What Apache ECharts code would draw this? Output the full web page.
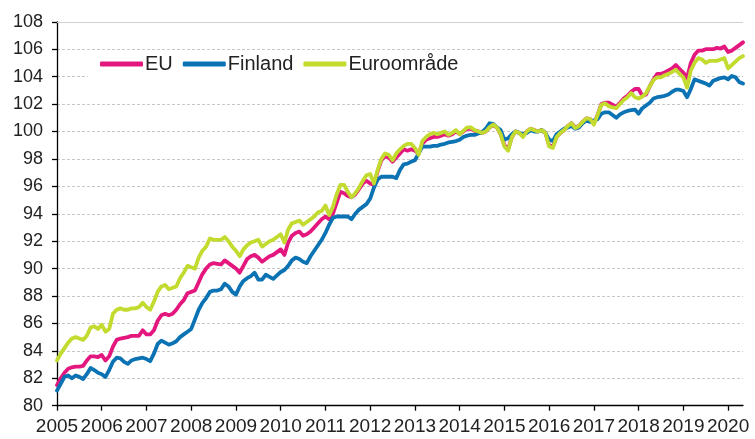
<!DOCTYPE html>
<html>
<head>
<meta charset="utf-8">
<script src="https://cdn.jsdelivr.net/npm/echarts@6/dist/echarts.min.js"></script>
<style>html,body{margin:0;padding:0;background:#fff}#c{width:755px;height:439px}</style>
</head>
<body>
<div id="c"></div>
<script>
const startYear = 2005;
const monthCount = 185; // Jan 2005 .. May 2020
const yTicks = { min: 80, max: 108, interval: 2 };
const seriesNames = ['EU', 'Finland', 'Euroområde'];

const euValues = [
  81.5, 82.0, 82.4, 82.7, 82.8, 82.85, 82.85, 82.9, 83.3, 83.6, 83.6, 83.55,
  83.7, 83.3, 83.6, 84.3, 84.8, 84.9, 84.95, 85.0, 85.1, 85.1, 85.1, 85.5,
  85.2, 85.2, 85.5, 86.2, 86.6, 86.7, 86.6, 86.7, 87.0, 87.4, 87.7, 88.2,
  88.3, 88.4, 89.0, 89.6, 90.0, 90.3, 90.4, 90.35, 90.3, 90.6, 90.4, 90.2,
  90.0, 89.7, 90.2, 90.7, 90.9, 91.0, 90.8, 90.5, 90.7, 90.9, 91.0, 91.2,
  91.4, 91.0, 91.9, 92.4, 92.6, 92.7, 92.4, 92.5, 92.7, 93.0, 93.3, 93.6,
  93.8, 93.6, 94.0, 94.8, 95.6, 95.5, 95.3, 95.2, 95.4, 95.8, 96.2, 96.4,
  96.2, 96.1, 97.1, 97.9, 98.2, 98.1, 97.8, 98.1, 98.4, 98.7, 98.6, 98.7,
  98.6, 98.4, 99.1, 99.4, 99.5, 99.6, 99.6, 99.7, 99.8, 99.7, 99.8, 100.0,
  99.8, 100.0, 100.2, 100.2, 100.05, 100.0, 99.9, 100.0, 100.3, 100.45, 100.3, 99.8,
  99.0, 98.7, 99.6, 100.0, 99.9, 99.7, 100.0, 100.2, 100.1, 100.0, 100.1, 99.9,
  99.0, 98.9, 99.6, 99.9, 100.1, 100.4, 100.6, 100.3, 100.4, 100.7, 100.95, 100.9,
  100.6, 101.2, 102.0, 102.1, 102.1, 101.95, 101.8, 102.1, 102.4, 102.6, 102.9, 103.1,
  103.1, 102.6, 102.7, 103.3, 103.8, 104.2, 104.2, 104.3, 104.45, 104.6, 104.85, 104.55,
  104.3, 103.9, 105.0, 105.6, 105.9, 105.9, 106.0, 106.0, 106.0, 106.1, 106.05, 106.2,
  105.8, 105.9, 106.1, 106.3, 106.5
];

const finlandValues = [
  81.1, 81.6, 82.1, 82.2, 82.0, 82.2, 82.1, 81.95, 82.3, 82.75, 82.6, 82.4,
  82.3, 82.1, 82.6, 83.2, 83.5, 83.45, 83.2, 83.05, 83.3, 83.4, 83.45, 83.5,
  83.4, 83.25, 83.8, 84.5, 84.75, 84.6, 84.45, 84.55, 84.7, 85.0, 85.2, 85.4,
  85.6, 86.3, 87.0, 87.5, 87.85, 88.3, 88.4, 88.4, 88.5, 88.9, 88.7, 88.3,
  88.1, 88.7, 89.1, 89.3, 89.45, 89.7, 89.2, 89.2, 89.55, 89.4, 89.25, 89.5,
  89.75, 89.9, 90.2, 90.6, 90.8, 90.7, 90.5, 90.4, 90.9, 91.3, 91.7, 92.1,
  92.6, 93.2, 93.7, 93.8, 93.8, 93.8, 93.8, 93.6, 94.0, 94.3, 94.5, 94.7,
  95.1, 95.9, 96.5, 96.7, 96.7, 96.7, 96.7, 96.6, 97.2, 97.6, 97.65, 97.8,
  97.9, 98.4, 98.9, 98.9, 98.9, 98.95, 98.95, 99.05, 99.1, 99.2, 99.25, 99.3,
  99.4, 99.6, 99.7, 99.75, 99.75, 99.85, 99.95, 100.2, 100.6, 100.55, 100.3, 100.1,
  99.4, 99.5, 99.8, 100.0, 99.9, 99.8, 99.9, 100.1, 100.0, 100.0, 100.1, 99.9,
  99.4, 99.3, 99.8, 100.0, 100.2, 100.3, 100.4, 100.2, 100.3, 100.6, 100.8, 100.7,
  100.8, 100.9, 101.3, 101.4, 101.4, 101.2, 101.0, 101.25, 101.4, 101.5, 101.55, 101.6,
  101.3, 101.7, 101.9, 102.1, 102.4, 102.5, 102.55, 102.6, 102.7, 102.9, 103.05, 103.05,
  102.95, 102.5, 103.1, 103.8, 103.7, 103.6, 103.5, 103.35, 103.7, 103.8, 103.9, 103.95,
  103.8, 104.05, 103.95, 103.6, 103.5
];

const euroAreaValues = [
  83.3, 83.8, 84.2, 84.6, 84.9, 85.0, 84.9, 84.8, 85.1, 85.7, 85.8, 85.6,
  85.9, 85.4, 85.6, 86.7, 87.0, 87.1, 87.0, 87.0, 87.1, 87.1, 87.2, 87.5,
  87.2, 87.0, 87.6, 88.3, 88.7, 88.8, 88.5, 88.6, 88.7, 89.3, 89.7, 90.2,
  90.1, 90.0, 90.8, 91.3, 91.6, 92.2, 92.1, 92.1, 92.1, 92.3, 92.0, 91.6,
  91.3, 90.9, 91.4, 91.7, 91.9, 92.0, 92.1, 91.6, 91.8, 92.0, 92.1, 92.3,
  92.5, 91.9, 92.85, 93.3, 93.4, 93.5, 93.2, 93.4, 93.6, 93.8, 94.1, 94.2,
  94.6, 93.9, 94.5, 95.4, 96.1, 96.1, 95.6, 95.2, 95.5, 95.9, 96.4, 96.8,
  96.9, 96.2, 97.2, 98.0, 98.4, 98.3, 97.9, 98.4, 98.7, 98.95, 99.1, 99.1,
  98.8, 98.3, 99.3, 99.6, 99.8, 99.9, 99.8, 99.9, 100.0, 99.75, 99.9, 100.1,
  99.8, 100.05, 100.3, 100.3, 100.1, 100.0, 99.9, 100.0, 100.3, 100.5, 100.3, 99.8,
  98.9, 98.6, 99.6, 100.0, 99.9, 99.6, 100.0, 100.2, 100.1, 100.0, 100.1, 99.9,
  98.9, 98.8, 99.6, 99.9, 100.1, 100.4, 100.6, 100.25, 100.4, 100.7, 100.95, 100.9,
  100.5, 101.2, 101.95, 102.05, 101.85, 101.75, 101.7, 102.0, 102.3, 102.5, 102.8, 102.5,
  102.4, 102.55, 102.8, 103.3, 103.75, 103.95, 103.95, 104.1, 104.2, 104.35, 104.5, 104.2,
  103.95, 103.2, 104.45, 105.0, 105.35, 105.25, 105.0, 105.15, 105.15, 105.15, 105.25, 105.35,
  104.6, 104.85, 105.1, 105.35, 105.5
];

const months = [];
for (let i = 0; i < monthCount; i++) {
  const y = startYear + Math.floor(i / 12);
  const m = (i % 12) + 1;
  months.push(y + 'M' + (m < 10 ? '0' + m : m));
}

const colors = ['#e4177f', '#0b73b3', '#c3da2f'];
const font = 'Liberation Sans, Arial, sans-serif';
const chart = echarts.init(document.getElementById('c'), null, { renderer: 'canvas' });
const yearStart = (idx) => idx % 12 === 0;

function lineSeries(name, data, color) {
  return {
    name: name, type: 'line', data: data, symbol: 'none', smooth: false,
    lineStyle: { color: color, width: 3.8, cap: 'round', join: 'round' },
    itemStyle: { color: color }, z: 3
  };
}

const series = [
  lineSeries(seriesNames[0], euValues, colors[0]),
  lineSeries(seriesNames[1], finlandValues, colors[1]),
  lineSeries(seriesNames[2], euroAreaValues, colors[2])
];
series[0].markLine = {
  silent: true, symbol: 'none', label: { show: false },
  lineStyle: { color: '#d0d0d0', type: 'solid', width: 1 },
  data: [{ yAxis: yTicks.max }], animation: false
};

chart.setOption({
  animation: false,
  backgroundColor: '#fff',
  grid: { left: 57, right: 12, top: 21.8, bottom: 33.3, containLabel: false },
  legend: {
    left: 88, top: 50, padding: [4, 12, 4, 12], backgroundColor: '#fff',
    itemWidth: 43, itemHeight: 5, itemGap: 10, icon: 'roundRect',
    textStyle: { fontFamily: font, fontSize: 20, color: '#222', padding: [0, 0, 0, -3] },
    data: seriesNames
  },
  xAxis: {
    type: 'category', data: months, boundaryGap: false,
    axisLine: { lineStyle: { color: '#000', width: 1.3 } },
    axisTick: { show: true, interval: yearStart, length: 5, lineStyle: { color: '#000', width: 1.3 } },
    axisLabel: {
      interval: yearStart, margin: 12, fontFamily: font, fontSize: 19, color: '#222',
      formatter: (v) => v.slice(0, 4)
    },
    splitLine: { show: false }
  },
  yAxis: {
    type: 'value', min: yTicks.min, max: yTicks.max, interval: yTicks.interval,
    axisLine: { show: true, lineStyle: { color: '#000', width: 1.3 } },
    axisTick: { show: true, length: 5, lineStyle: { color: '#000', width: 1.3 } },
    axisLabel: { margin: 14, fontFamily: font, fontSize: 18, color: '#222' },
    splitLine: { show: true, lineStyle: { color: '#c8c8c8', type: [3, 2], width: 1 } }
  },
  series: series
});
</script>
</body>
</html>
